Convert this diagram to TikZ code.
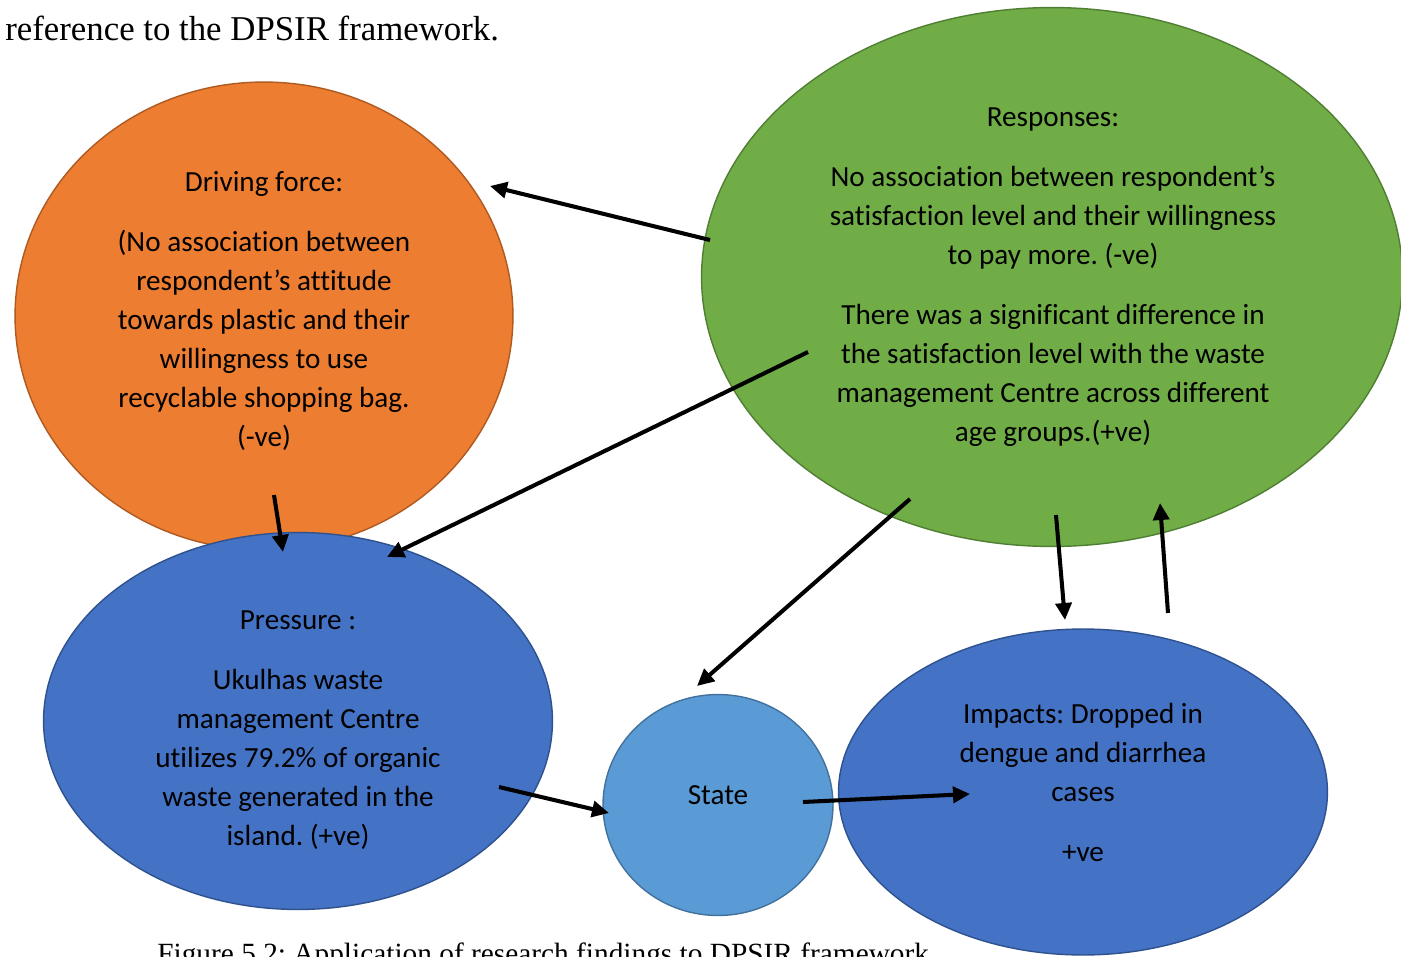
\documentclass[tikz,border=0pt]{standalone}
\usepackage{fontspec}
\setmainfont{Carlito}[Ligatures=NoCommon]
\newfontfamily\timesfont{Liberation Serif}
\usetikzlibrary{shapes.geometric,arrows.meta}
\frenchspacing
\definecolor{orfill}{HTML}{ED7D31}
\definecolor{ordraw}{HTML}{AE5A21}
\definecolor{grfill}{HTML}{70AD47}
\definecolor{grdraw}{HTML}{507E32}
\definecolor{blfill}{HTML}{4472C4}
\definecolor{bldraw}{HTML}{2F528F}
\definecolor{ltfill}{HTML}{5B9BD5}
\definecolor{ltdraw}{HTML}{41719C}
\tikzset{
  blob/.style={ellipse, inner sep=0pt, line width=0.8pt},
  body/.style={align=center, inner sep=0pt, font=\fontsize{16.6}{22.2}\selectfont},
  conn/.style={line width=2.3pt, -{Triangle[length=0.34cm,width=0.32cm]}},
  serif/.style={inner sep=0pt, font=\timesfont\fontsize{19.8}{24}\selectfont},
  capserif/.style={inner sep=0pt, font=\timesfont\fontsize{16.7}{20}\selectfont}
}
\begin{document}
\begin{tikzpicture}[x=0.02cm,y=-0.02cm]
\useasboundingbox (0,0) rectangle (1401,957);
\clip (0,0) rectangle (1401,957);
\fill[white] (0,0) rectangle (1401,957);
% ellipses
\node[blob, fill=orfill, draw=ordraw, minimum width=9.96cm, minimum height=9.36cm] (driving) at (264,316) {};
\node[blob, fill=blfill, draw=bldraw, minimum width=10.18cm, minimum height=7.54cm] (pressure) at (298,721) {};
\node[blob, fill=grfill, draw=grdraw, minimum width=14.02cm, minimum height=10.78cm] (responses) at (1052,277) {};
\node[blob, fill=ltfill, draw=ltdraw, minimum width=4.6cm, minimum height=4.42cm] (state) at (718,805) {};
\node[blob, fill=blfill, draw=bldraw, minimum width=9.78cm, minimum height=6.52cm] (impacts) at (1083,792) {};
% texts
\node[body] (tdriving) at (264,311) {Driving force:\\[0.42cm](No association between\\respondent’s attitude\\towards plastic and their\\willingness to use\\recyclable shopping bag.\\(-ve)};
\node[body] (tresponses) at (1053,277) {Responses:\\[0.42cm]No association between respondent’s\\satisfaction level and their willingness\\to pay more. (-ve)\\[0.42cm]There was a significant difference in\\the satisfaction level with the waste\\management Centre across different\\age groups.(+ve)};
\node[body] (tpressure) at (298,730) {Pressure :\\[0.42cm]Ukulhas waste\\management Centre\\utilizes 79.2\% of organic\\waste generated in the\\island. (+ve)};
\node[body] (tstate) at (718,795) {State};
\node[body] (timpacts) at (1083,782) {Impacts: Dropped in\\dengue and diarrhea\\cases\\[0.42cm]+ve};
% page text
\node[serif, anchor=west] (top) at (5,28) {reference to the DPSIR framework.};
\node[capserif, anchor=north west] (caption) at (157,942) {Figure 5.2: Application of research findings to DPSIR framework};
% connector end points
\coordinate (a1s) at (710,240); \coordinate (a1e) at (490,186);
\coordinate (a2s) at (808,352); \coordinate (a2e) at (387,557);
\coordinate (a3s) at (274,495); \coordinate (a3e) at (283,552);
\coordinate (a4s) at (910,499); \coordinate (a4e) at (697,686);
\coordinate (a5s) at (1056,515); \coordinate (a5e) at (1065,620);
\coordinate (a6s) at (1168,613); \coordinate (a6e) at (1160,503);
\coordinate (a7s) at (499,787); \coordinate (a7e) at (609,813);
\coordinate (a8s) at (803,802); \coordinate (a8e) at (970,794);
\draw[conn] (a1s) -- (a1e);
\draw[conn] (a2s) -- (a2e);
\draw[conn] (a3s) -- (a3e);
\draw[conn] (a4s) -- (a4e);
\draw[conn] (a5s) -- (a5e);
\draw[conn] (a6s) -- (a6e);
\draw[conn] (a7s) -- (a7e);
\draw[conn] (a8s) -- (a8e);
\end{tikzpicture}
\end{document}
